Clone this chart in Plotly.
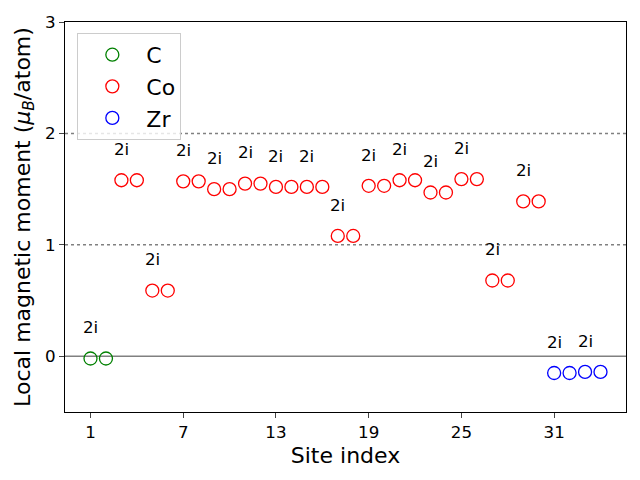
import plotly.graph_objects as go

# Data
c_sites = [1, 2]
c_moments = [-0.02, -0.02]
co_sites = list(range(3, 31))
co_moments = [1.58, 1.58, 0.59, 0.59, 1.57, 1.57, 1.50, 1.50, 1.55, 1.55,
              1.52, 1.52, 1.52, 1.52, 1.08, 1.08, 1.53, 1.53, 1.58, 1.58,
              1.47, 1.47, 1.59, 1.59, 0.68, 0.68, 1.39, 1.39]
zr_sites = [31, 32, 33, 34]
zr_moments = [-0.15, -0.15, -0.14, -0.14]
wyckoff_label = "2i"
x_ticks = [1, 7, 13, 19, 25, 31]
y_ticks = [0, 1, 2, 3]

font = "DejaVu Sans"
fig = go.Figure()
for name, xs, ys, col in [("C", c_sites, c_moments, "green"),
                          ("Co", co_sites, co_moments, "red"),
                          ("Zr", zr_sites, zr_moments, "blue")]:
    fig.add_trace(go.Scatter(x=xs, y=ys, mode="markers", name=name,
                             marker=dict(symbol="circle-open", size=13, color=col,
                                         line=dict(width=1.3, color=col))))

all_x = c_sites + co_sites + zr_sites
all_y = c_moments + co_moments + zr_moments
annotations = []
for i in range(0, len(all_x), 2):
    annotations.append(dict(x=all_x[i], y=all_y[i] + 0.2, text=wyckoff_label,
                            showarrow=False, xanchor="center", yanchor="bottom",
                            yshift=-3,
                            font=dict(family=font, size=16.7, color="black")))

shapes = [
    dict(type="line", xref="paper", x0=0, x1=1, y0=0, y1=0,
         line=dict(color="gray", width=1.5), layer="below"),
    dict(type="line", xref="paper", x0=0, x1=1, y0=1, y1=1,
         line=dict(color="gray", width=1.5, dash="dot"), layer="below"),
    dict(type="line", xref="paper", x0=0, x1=1, y0=2, y1=2,
         line=dict(color="gray", width=1.5, dash="dot"), layer="below"),
]

# page body has an 8px margin, so the figure is sized 624x464 and offset accordingly
fig.update_layout(
    width=624, height=464,
    margin=dict(l=57, r=6, t=14, b=60, autoexpand=False),
    plot_bgcolor="white", paper_bgcolor="white",
    font=dict(family=font, color="black"),
    annotations=annotations, shapes=shapes,
    legend=dict(x=0.022, y=0.972, xanchor="left", yanchor="top",
                bgcolor="rgba(255,255,255,0.8)", bordercolor="#cccccc", borderwidth=1,
                font=dict(family=font, size=22), itemwidth=58,
                tracegroupgap=0),
    xaxis=dict(range=[-0.65, 35.65], tickvals=x_ticks, ticks="outside", ticklen=5,
               tickfont=dict(size=16.7), showgrid=False, zeroline=False, automargin=False,
               showline=True, linecolor="black", mirror=True, linewidth=1.2,
               title=dict(text="Site index", font=dict(size=22), standoff=6)),
    yaxis=dict(range=[-0.5, 3], tickvals=y_ticks, ticks="outside", ticklen=5,
               tickfont=dict(size=16.7), showgrid=False, zeroline=False, automargin=False,
               showline=True, linecolor="black", mirror=True, linewidth=1.2,
               title=dict(text="Local magnetic moment (<i>μ<sub>B</sub></i>/atom)",
                          font=dict(size=22), standoff=8)),
)
fig.write_html("out.html")
